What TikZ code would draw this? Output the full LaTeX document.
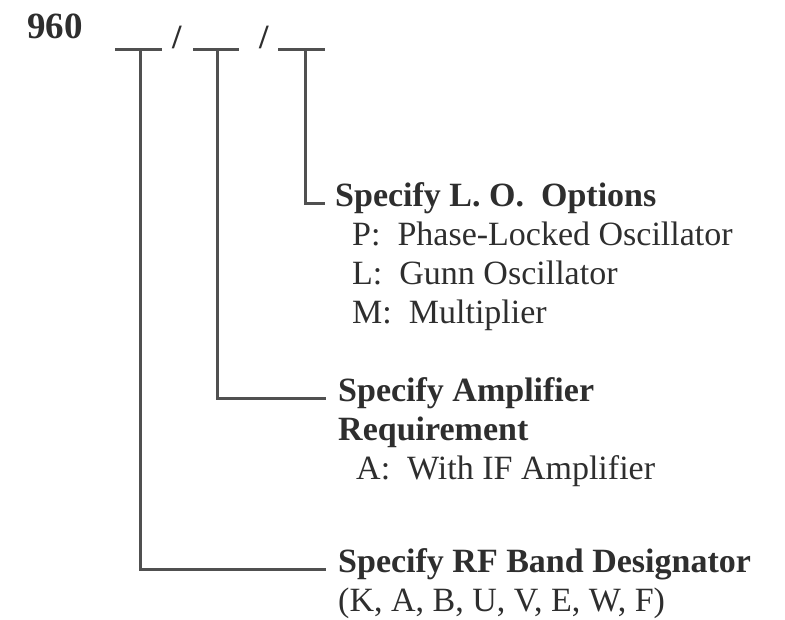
\documentclass[tikz,border=0pt]{standalone}
\usepackage{fontspec}
\setmainfont{Liberation Serif}
\usetikzlibrary{positioning}
\definecolor{pnInk}{HTML}{2E2E2E}
\definecolor{pnLine}{HTML}{505050}

\begin{document}
\begin{tikzpicture}[x=1pt,y=-1pt,
    head/.style={font=\fontsize{34}{39}\selectfont\bfseries, text=pnInk,
      inner sep=0pt, anchor=base west},
    item/.style={font=\fontsize{34}{39}\selectfont, text=pnInk,
      inner sep=0pt, anchor=base west},
    lead/.style={draw=pnLine, line width=3pt}]
  \useasboundingbox (0,0) rectangle (785,619);
  % part number and its three blanks
  \node[head, font=\fontsize{37}{40}\selectfont\bfseries] (num) at (27,38) {960};
  \coordinate (f1a) at (115,49); \coordinate (f1b) at (162,49);
  \coordinate (f2a) at (193,49); \coordinate (f2b) at (239,49);
  \coordinate (f3a) at (278,49); \coordinate (f3b) at (325,49);
  \node[head] (sl1) at (172,48) {/};
  \node[head] (sl2) at (259,48) {/};
  \coordinate (s1) at (140,49);
  \coordinate (s2) at (217,49);
  \coordinate (s3) at (305,49);
  \draw[lead] (f1a) -- (f1b);
  \draw[lead] (f2a) -- (f2b);
  \draw[lead] (f3a) -- (f3b);
  % what each blank means
  \node[head] (lo) at (335,206) {Specify L.\ O.\ \ Options};
  \node[item] (lo-p) at (352,245) {P:\ \ Phase-Locked Oscillator};
  \node[item] (lo-l) at (352,284) {L:\ \ Gunn Oscillator};
  \node[item] (lo-m) at (352,323) {M:\ \ Multiplier};
  \node[head] (amp) at (338,401) {Specify Amplifier};
  \node[head] (amp-r) at (338,440) {Requirement};
  \node[item] (amp-a) at (356,479) {A:\ \ With IF Amplifier};
  \node[head] (rf) at (338,572) {Specify RF Band Designator};
  \node[item] (rf-k) at (338,611) {(K, A, B, U, V, E, W, F)};
  \draw[lead] (s3) |- ([xshift=-10pt]lo.mid west);
  \draw[lead] (s2) |- ([xshift=-12pt]amp.mid west);
  \draw[lead] (s1) |- ([xshift=-12pt]rf.mid west);
\end{tikzpicture}
\end{document}
